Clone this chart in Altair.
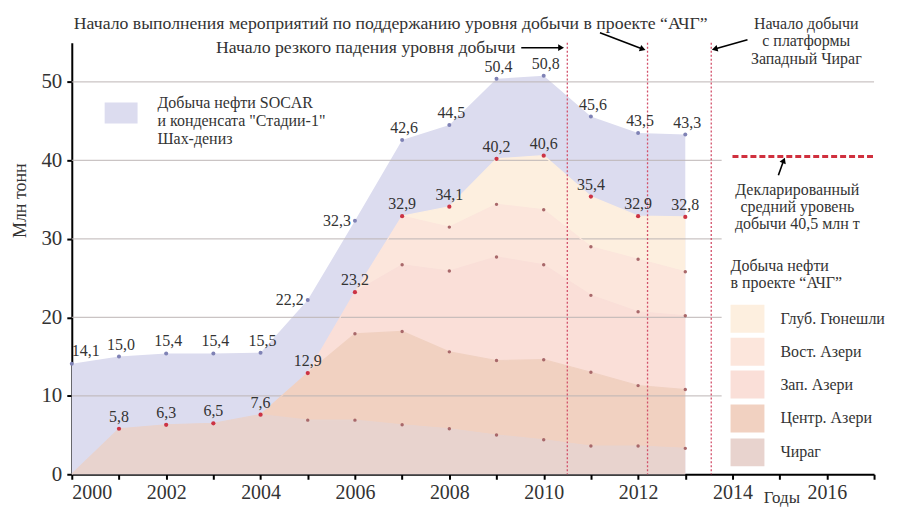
import altair as alt
import pandas as pd

# ---------------- data ----------------
years = list(range(2000, 2014))
total_all = [14.1, 15.0, 15.4, 15.4, 15.5, 22.2, 32.3, 42.6, 44.5, 50.4, 50.8, 45.6, 43.5, 43.3]
layer_names = ["Чираг", "Центр. Азери", "Зап. Азери", "Вост. Азери", "Глуб. Гюнешли"]
chirag = [0.0, 5.8, 6.3, 6.5, 7.6, 6.9, 6.9, 6.3, 5.8, 5.0, 4.4, 3.6, 3.6, 3.3]
central = [0.0, 0.0, 0.0, 0.0, 0.0, 6.0, 11.0, 11.9, 9.8, 9.5, 10.2, 9.4, 7.7, 7.5]
west = [0.0, 0.0, 0.0, 0.0, 0.0, 0.0, 5.3, 8.5, 10.3, 13.2, 12.1, 9.8, 9.4, 9.4]
east = [0.0, 0.0, 0.0, 0.0, 0.0, 0.0, 0.0, 6.2, 5.6, 6.7, 7.0, 6.2, 6.7, 5.6]
deep = [0.0, 0.0, 0.0, 0.0, 0.0, 0.0, 0.0, 0.0, 2.6, 5.8, 6.9, 6.4, 5.5, 7.0]
event_years = [2010.5, 2012.2, 2013.55]
declared_level = 40.5
grid_values = [10, 20, 30, 40, 50]

# ---------------- styles ----------------
FONT = "Liberation Serif"
TXT = "#333333"
lav_color = "#dcdcef"
layer_colors = ["#e8d3ce", "#f1d1c1", "#fadfd8", "#fce6dc", "#fdefdf"]
line_colors = ["#d9b9b2", "#e6bfae", "#efc9c0", "#f1d2c6", "#f4dcc8"]

# ---------------- tables ----------------
series = [chirag, central, west, east, deep]
rows = []
cum = [0.0] * len(years)
for li, (name, vals) in enumerate(zip(layer_names, series)):
    for i, yr in enumerate(years):
        y0 = cum[i]
        y1 = y0 + vals[i]
        above = any(series[k][i] > 0 for k in range(li + 1, len(series)))
        nxt = vals[i + 1] if i + 1 < len(years) else 0
        rows.append({"year": yr, "layer": name, "y0": y0, "y1": y1,
                     "line": (vals[i] > 0 or nxt > 0), "inner": (vals[i] > 0 and above)})
    cum = [c + v for c, v in zip(cum, vals)]
layers_df = pd.DataFrame(rows)
line_df = layers_df[layers_df["line"]]
inner_df = layers_df[layers_df["inner"]]

def fmt(v):
    return f"{v:.1f}".replace(".", ",")

all_df = pd.DataFrame({"year": years, "total": total_all,
                       "label": [fmt(v) for v in total_all]})
achg_df = pd.DataFrame({"year": years, "total": cum,
                        "label": [fmt(v) for v in cum]})
achg_df = achg_df[achg_df["total"] > 0]

grid_df = pd.DataFrame({"y": grid_values,
                        "x0": [2000] * len(grid_values),
                        "x1": [2013.77, 2013.77, 2013.77, 2013.77, 2017]})
event_df = pd.DataFrame({"x": event_years})
declared_df = pd.DataFrame({"y": [declared_level], "x0": [2014.0], "x1": [2017.0]})
one = pd.DataFrame({"a": [0]})

xs = alt.Scale(domain=[2000, 2017], nice=False, zero=False)
ys = alt.Scale(domain=[0, 55], nice=False)

X = alt.X("year:Q", scale=xs, axis=alt.Axis(
    values=list(range(2000, 2018)), format="d",
    labelExpr="datum.value % 2 == 0 ? datum.label : ''",
    labelFont=FONT, labelFontSize=20, labelColor=TXT, labelPadding=3,
    tickSize=5, tickWidth=2, tickColor="black", domainColor="black", domainWidth=2,
    grid=False, title="Годы", titleFont=FONT, titleFontSize=17, titleFontWeight="normal",
    titleColor=TXT, titleX=712, titleY=15, titleAlign="center", titleBaseline="top"))
Y = alt.Y("total:Q", scale=ys, axis=alt.Axis(
    values=[0, 10, 20, 30, 40, 50], labelFont=FONT, labelFontSize=21, labelColor=TXT,
    labelPadding=5, tickSize=5, tickWidth=2, tickColor="black", domainColor="black",
    domainWidth=2, grid=False, title="Млн тонн", titleFont=FONT, titleFontSize=18,
    titleFontWeight="normal", titleColor=TXT, titleAngle=270, titleX=-51, titleY=158,
    titleAlign="center", titleBaseline="middle"))

# lavender total area
lav_area = alt.Chart(all_df).mark_area(color=lav_color, opacity=1).encode(x=X, y=Y)

color_scale = alt.Scale(domain=layer_names, range=layer_colors)
areas = alt.Chart(layers_df).mark_area(opacity=1, interpolate="linear").encode(
    x=alt.X("year:Q", scale=xs),
    y=alt.Y("y1:Q", scale=ys, stack=None),
    y2="y0:Q",
    color=alt.Color("layer:N", scale=color_scale, legend=None),
)

grid = alt.Chart(grid_df).mark_rule(color="#bdb5b5", strokeWidth=1.2, opacity=0.8).encode(
    x=alt.X("x0:Q", scale=xs), x2="x1:Q", y=alt.Y("y:Q", scale=ys))

bound_lines = alt.Chart(line_df).mark_line(strokeWidth=1.2).encode(
    x=alt.X("year:Q", scale=xs),
    y=alt.Y("y1:Q", scale=ys),
    color=alt.Color("layer:N", scale=alt.Scale(domain=layer_names, range=line_colors), legend=None),
)

events = alt.Chart(event_df).mark_rule(color="#d2506a", strokeDash=[2, 2], strokeWidth=1.3).encode(
    x=alt.X("x:Q", scale=xs))

declared = alt.Chart(declared_df).mark_rule(color="#d0303e", strokeDash=[6, 3], strokeWidth=3).encode(
    x=alt.X("x0:Q", scale=xs), x2="x1:Q", y=alt.Y("y:Q", scale=ys))

inner_dots = alt.Chart(inner_df).mark_circle(color="#a8686a", size=12, opacity=1).encode(
    x=alt.X("year:Q", scale=xs), y=alt.Y("y1:Q", scale=ys))
lav_dots = alt.Chart(all_df).mark_circle(color="#7f82b5", size=16, opacity=1).encode(
    x=alt.X("year:Q", scale=xs), y=alt.Y("total:Q", scale=ys))
achg_dots = alt.Chart(achg_df).mark_circle(color="#cc3344", size=18, opacity=1).encode(
    x=alt.X("year:Q", scale=xs), y=alt.Y("total:Q", scale=ys))

def labels(df, align, dx, dy, cond):
    return alt.Chart(df).transform_filter(cond).mark_text(
        font=FONT, fontSize=16, color=TXT, align=align, baseline="middle", dx=dx, dy=dy
    ).encode(x=alt.X("year:Q", scale=xs), y=alt.Y("total:Q", scale=ys), text="label:N")

lab_all_first = labels(all_df, "left", 0, -13, "datum.year == 2000")
lab_all_left = labels(all_df, "right", -4, 0, "datum.year == 2005 || datum.year == 2006")
lab_all_mid = labels(all_df, "center", 2, -12,
                     "datum.year != 2000 && datum.year != 2005 && datum.year != 2006")
lab_achg = labels(achg_df, "center", 0, -12, "true")

# ---------------- annotations (pixel positions inside the plot frame) ----------------
def txt(lines, x, y, size=15, align="center", lh=17):
    return alt.Chart(one).mark_text(font=FONT, fontSize=size, color=TXT, align=align,
                                    baseline="middle", lineHeight=lh).encode(
        x=alt.value(x), y=alt.value(y), text=alt.value(lines))

def arrow(x0, y0, x1, y1, ang):
    shaft = alt.Chart(one).mark_rule(color="black", strokeWidth=1.6).encode(
        x=alt.value(x0), y=alt.value(y0), x2=alt.value(x1), y2=alt.value(y1))
    head = alt.Chart(one).mark_point(shape="triangle", filled=True, color="black",
                                     size=45, angle=ang, opacity=1).encode(
        x=alt.value(x1), y=alt.value(y1))
    return shaft + head

ann = [
    txt("Начало выполнения мероприятий по поддержанию уровня добычи в проекте “АЧГ”", 320, -19, size=17.8),
    txt("Начало резкого падения уровня добычи", 295, 5, size=17.8),
    arrow(451, 5, 490, 5, 90),
    arrow(530, -10, 572, 6, 110),
    arrow(678, -3, 646, 6, 255),
    txt(["Начало добычи", "с платформы", "Западный Чираг"], 737, -19, size=16, lh=17.5),
    arrow(709, 133, 714, 119, 22),
    txt(["Декларированный", "средний уровень", "добычи 40,5 млн т"], 728, 148, size=16, lh=17),
    txt(["Добыча нефти", "в проекте “АЧГ”"], 661, 224, size=16, align="left", lh=17.5),
    txt(["Добыча нефти SOCAR", "и конденсата \"Стадии-1\"", "Шах-дениз"], 86, 60, size=16,
        align="left", lh=18.5),
]
ann.append(alt.Chart(one).mark_rect(color=lav_color).encode(
    x=alt.value(33), x2=alt.value(66), y=alt.value(60), y2=alt.value(81)))

legend_centers = [277, 310, 343, 377, 411]
for name, col, cy in zip(reversed(layer_names), reversed(layer_colors), legend_centers):
    ann.append(alt.Chart(one).mark_rect(color=col).encode(
        x=alt.value(661), x2=alt.value(695), y=alt.value(cy - 14), y2=alt.value(cy + 14)))
    ann.append(txt(name, 711, cy, size=16, align="left"))

chart = alt.layer(
    lav_area, areas, grid, bound_lines, events, declared,
    inner_dots, lav_dots, achg_dots,
    lab_all_first, lab_all_left, lab_all_mid, lab_achg,
    *ann
).properties(
    width=805, height=433,
    autosize=alt.AutoSizeParams(type="none"),
    padding={"left": 64, "top": 34, "right": 17, "bottom": 32},
    background="white",
).configure_view(stroke=None)

chart.save("out.html", embed_options={"renderer": "svg", "actions": False})
